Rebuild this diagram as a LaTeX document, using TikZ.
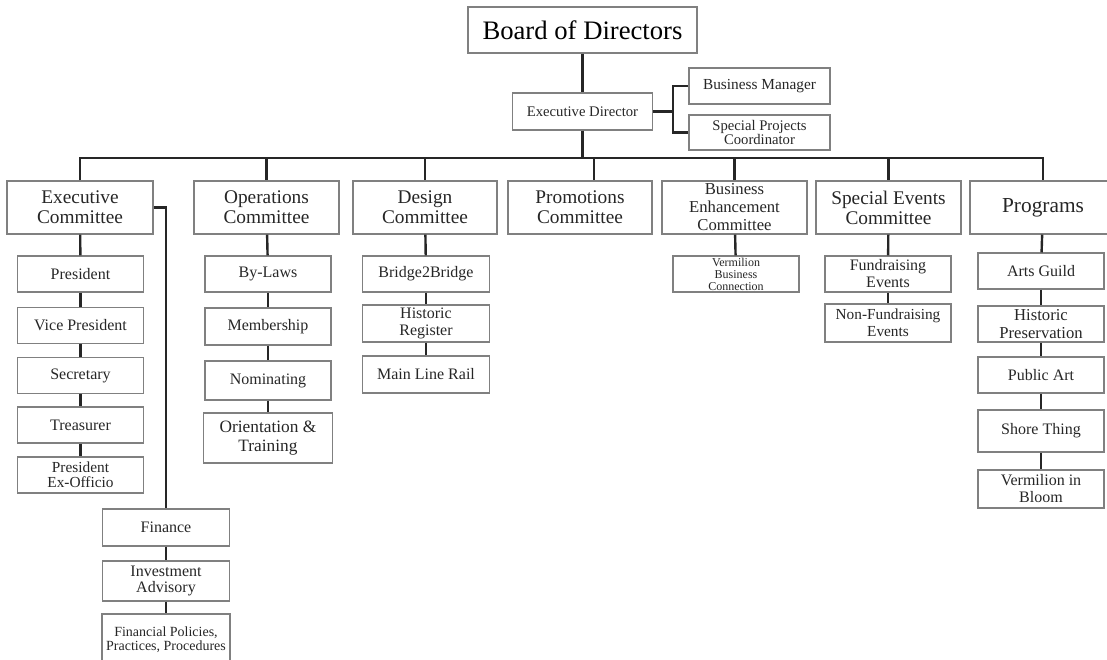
\documentclass[tikz,border=0pt]{standalone}
\usepackage{fontspec}
\setmainfont{Liberation Serif}

\begin{document}
\begin{tikzpicture}[x=0.75pt,y=-0.75pt,
    box/.style={draw=black!50, line width=0.8pt, inner sep=0pt, align=center, text=black!85,
      minimum width=94.5pt, minimum height=27pt, font=\fontsize{12}{12.75}\selectfont},
    head/.style={box, minimum width=109.5pt, minimum height=39.75pt, font=\fontsize{14.5}{15}\selectfont},
    link/.style={line width=1.8pt, black!85}]
    \useasboundingbox (0,0) rectangle (1107,660);
    % board and director
    \node[box, minimum width=171.75pt, minimum height=34.5pt, text=black,
      font=\fontsize{20}{24}\selectfont] (bod) at (582.5,30) {Board of Directors};
    \node[box, minimum width=105pt, minimum height=27.75pt, font=\fontsize{11}{12}\selectfont] (ed) at (582.5,111.5) {Executive Director};
    \node[box, minimum width=105.75pt, font=\fontsize{11.5}{12}\selectfont] (bm) at (759.5,86) {Business Manager};
    \node[box, minimum width=105.75pt, minimum height=26.25pt, font=\fontsize{11}{10.5}\selectfont] (spc) at (759.5,132.5) {Special Projects\\Coordinator};
    \coordinate (split) at (673,111.5);
    \coordinate (bus) at (0,158);
    % committees
    \node[head] (ec) at (80,207.5) {Executive\\Committee};
    \node[head, minimum width=108.75pt] (oc) at (266.5,207.5) {Operations\\Committee};
    \node[head, minimum width=108pt] (dc) at (425,207.5) {Design\\Committee};
    \node[head, minimum width=108pt] (pc) at (580,207.5) {Promotions\\Committee};
    \node[head, minimum width=108.75pt, font=\fontsize{12.5}{13.5}\selectfont] (bec) at (734.5,207.5) {Business\\Enhancement\\Committee};
    \node[head, minimum width=108.75pt] (sec) at (888.5,207.5) {Special Events\\Committee};
    \node[head, font=\fontsize{16}{18}\selectfont] (prog) at (1043,207.5) {Programs};
    % executive committee
    \node[box] (pres) at (80.5,274) {President};
    \node[box] (vp) at (80.5,325.5) {Vice President};
    \node[box] (secy) at (80.5,375.5) {Secretary};
    \node[box] (treas) at (80.5,425) {Treasurer};
    \node[box, font=\fontsize{11.5}{11.25}\selectfont] (peo) at (80.5,475) {President\\Ex-Officio};
    \node[box, minimum width=95.25pt, minimum height=27.75pt] (fin) at (166,527.5) {Finance};
    \node[box, minimum width=95.25pt, minimum height=30pt, font=\fontsize{12}{12}\selectfont] (inv) at (166,581) {Investment\\Advisory};
    \node[box, minimum width=96pt, minimum height=39pt, font=\fontsize{10.5}{10.5}\selectfont] (fpp) at (166,640) {Financial Policies,\\Practices, Procedures};
    % operations committee
    \node[box] (bylaws) at (268,274) {By-Laws};
    \node[box, minimum height=27.75pt] (memb) at (268,326.5) {Membership};
    \node[box, minimum height=29.25pt] (nom) at (268,380.5) {Nominating};
    \node[box, minimum width=96.75pt, minimum height=37.5pt, font=\fontsize{13}{14}\selectfont] (orient) at (268,438) {Orientation \&\\Training};
    % design committee
    \node[box, minimum width=95.25pt] (b2b) at (426,274) {Bridge2Bridge};
    \node[box, minimum width=95.25pt, minimum height=27.75pt] (hreg) at (426,323.5) {Historic\\Register};
    \node[box, minimum width=95.25pt, minimum height=27.75pt] (mlr) at (426,374.5) {Main Line Rail};
    % business enhancement
    \node[box, font=\fontsize{9}{9}\selectfont] (vbc) at (736,274) {Vermilion\\Business\\Connection};
    % special events
    \node[box] (fund) at (888,274) {Fundraising\\Events};
    \node[box, minimum height=28.5pt, font=\fontsize{11.5}{12.75}\selectfont] (nonfund) at (888,323) {Non-Fundraising\\Events};
    % programs
    \node[box] (arts) at (1041,271) {Arts Guild};
    \node[box, font=\fontsize{12.5}{13}\selectfont] (hpres) at (1041,324) {Historic\\Preservation};
    \node[box] (pubart) at (1041,375) {Public Art};
    \node[box, minimum height=31.5pt] (shore) at (1041,431) {Shore Thing};
    \node[box, minimum height=28.5pt] (bloom) at (1041,489) {Vermilion in\\Bloom};
    % connectors
    \draw[link] (bod) -- (ed);
    \draw[link] (ed.east) -- (split);
    \draw[link] (bm.west) -| (split) |- (spc.west);
    \draw[link] (ed.south) -- (ed.south |- bus);
    \draw[link] (ec.north) -- (ec.north |- bus) -- (prog.north |- bus) -- (prog.north);
    \foreach \n in {oc,dc,bec,sec}
      \draw[link] (\n.north |- bus) -- (\n.north);
    \draw[link] ([xshift=10.5pt]pc.north |- bus) -- ([xshift=10.5pt]pc.north);
    \draw[link] (ec.east) -| (fin.north);
    \foreach \a/\b in {ec/pres, pres/vp, vp/secy, secy/treas, treas/peo, fin/inv, inv/fpp,
        oc/bylaws, bylaws/memb, memb/nom, nom/orient, dc/b2b, b2b/hreg, hreg/mlr,
        bec/vbc, sec/fund, fund/nonfund, prog/arts, arts/hpres, hpres/pubart,
        pubart/shore, shore/bloom}
      \draw[link] (\a) -- (\b);
\end{tikzpicture}
\end{document}
